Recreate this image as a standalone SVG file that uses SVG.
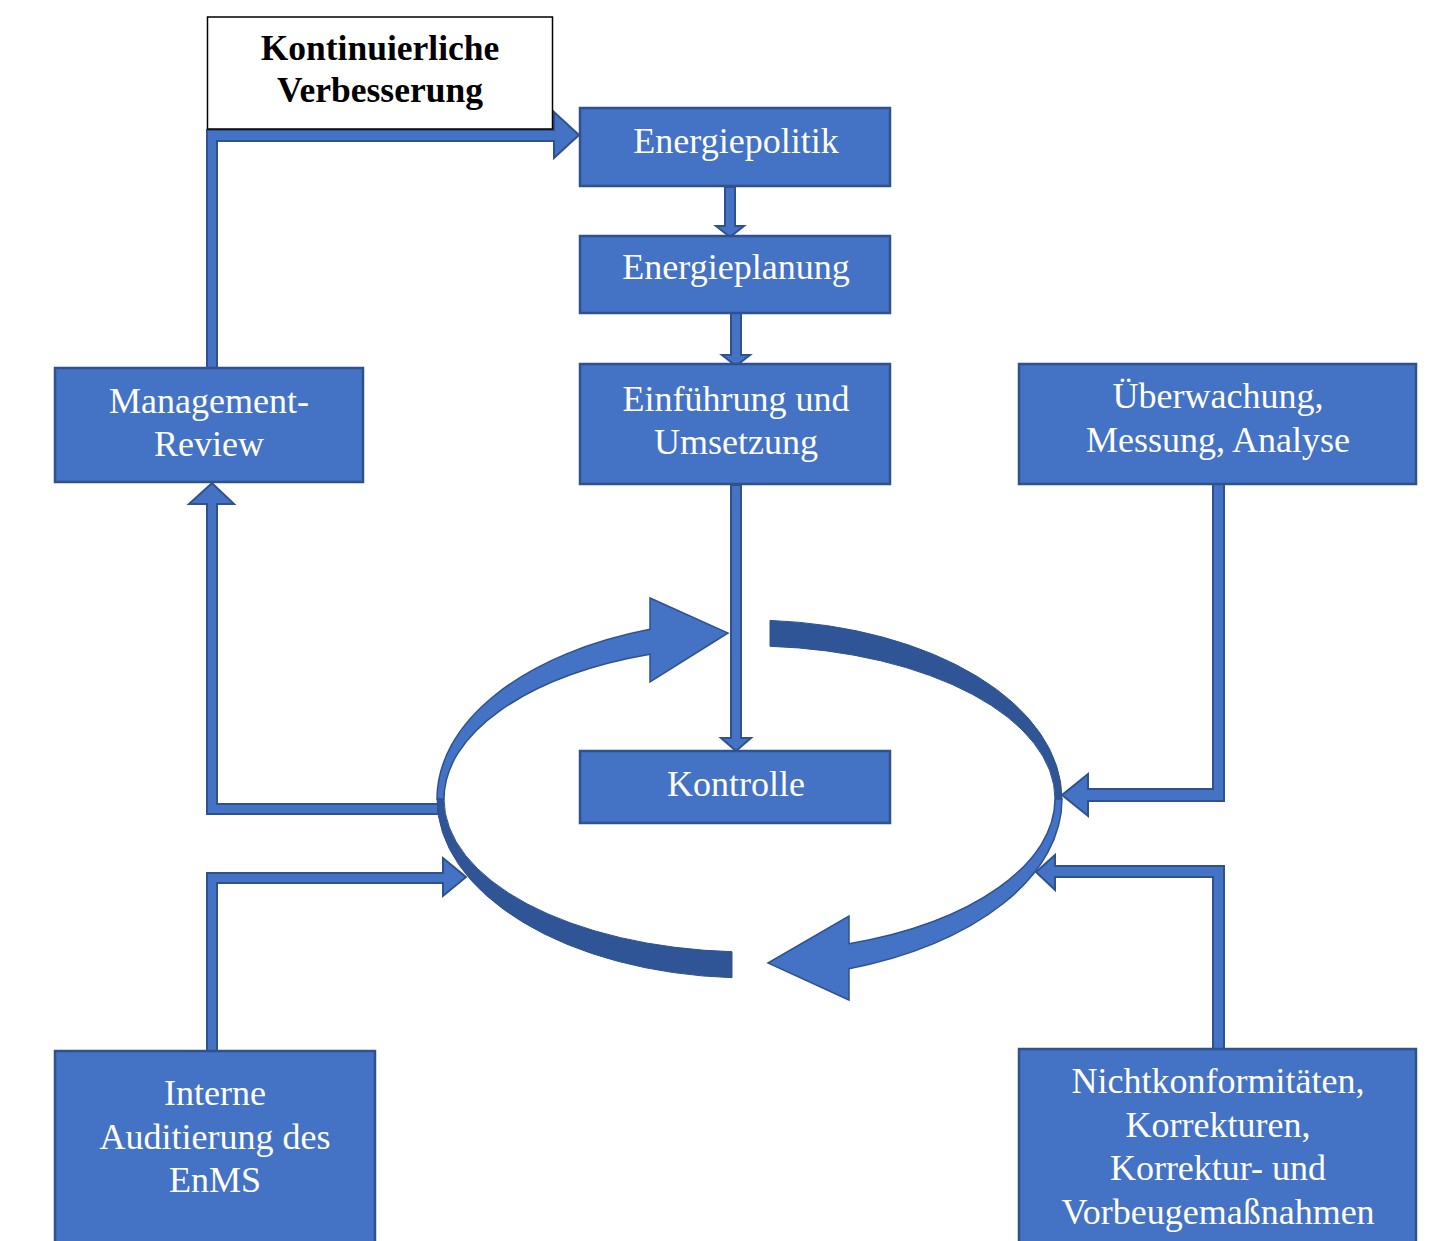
<svg xmlns="http://www.w3.org/2000/svg" width="1436" height="1241" viewBox="0 0 1436 1241">
<style>
.box{fill:#4472C4;stroke:#2F528F;stroke-width:2.5}
.wt{fill:#FFFFFF;font-family:"Liberation Serif","Times New Roman",serif;font-size:36px;text-anchor:middle}
.bt{fill:#000000;font-family:"Liberation Serif","Times New Roman",serif;font-size:35.5px;font-weight:bold;text-anchor:middle}
.con{fill:#4472C4;stroke:#2F528F;stroke-width:2;stroke-linejoin:miter}
.ringL{fill:#4472C4;stroke:#2F528F;stroke-width:1.5}
.ringD{fill:#2F5597;stroke:#2F528F;stroke-width:1}
</style>
<rect width="1436" height="1241" fill="#FFFFFF"/>

<g id="cycle">
  <path class="ringD" d="M 770 620.4 A 312.5 179 0 0 1 1062 799 L 1055 799 A 305.5 153 0 0 0 770 646.3 Z"/>
  <path class="ringD" d="M 732 977.7 A 312.5 179 0 0 1 437 799 L 444 799 A 305.5 153 0 0 0 732 951.7 Z"/>
  <path class="ringL" d="M 437 799 A 312.5 179 0 0 1 650 629.3 L 650 598 L 728 633 L 650 682 L 650 654.3 A 305.5 153 0 0 0 444 799 Z"/>
  <path class="ringL" d="M 1062 799 A 312.5 179 0 0 1 849 968.7 L 849 1000 L 768 963 L 849 916 L 849 943.7 A 305.5 153 0 0 0 1055 799 Z"/>
</g>

<g id="connectors">
  <path class="con" d="M 207 368 L 207 130 L 554 130 L 554 112 L 579 135 L 554 158 L 554 141 L 217 141 L 217 368 Z"/>
  <path class="con" d="M 725 187 L 725 226 L 716 226 L 730 237 L 744 226 L 735 226 L 735 187 Z"/>
  <path class="con" d="M 731 313 L 731 355 L 722 355 L 736 366 L 750 355 L 741 355 L 741 313 Z"/>
  <path class="con" d="M 731 485 L 731 738 L 721 738 L 736 751 L 751 738 L 741 738 L 741 485 Z"/>
  <path class="con" d="M 1213 484 L 1224 484 L 1224 801 L 1088 801 L 1088 816 L 1062 795 L 1088 774 L 1088 789 L 1213 789 Z"/>
  <path class="con" d="M 438 804 L 217 804 L 217 504 L 234 504 L 212 483 L 189 504 L 207 504 L 207 814 L 438 814 Z"/>
  <path class="con" d="M 207 1051 L 207 873 L 443 873 L 443 858 L 466 877 L 443 896 L 443 883 L 217 883 L 217 1051 Z"/>
  <path class="con" d="M 1213 1049 L 1213 877 L 1055 877 L 1055 890 L 1036 872 L 1055 855 L 1055 866 L 1224 866 L 1224 1049 Z"/>
</g>

<g id="node-verbesserung">
  <rect x="207.5" y="17" width="345" height="112" fill="#FFFFFF" stroke="#000000" stroke-width="1.5"/>
  <text class="bt" x="380" y="60">Kontinuierliche</text>
  <text class="bt" x="380" y="102">Verbesserung</text>
</g>
<g id="node-energiepolitik">
  <rect class="box" x="580" y="108" width="310" height="78"/>
  <text class="wt" x="736" y="153">Energiepolitik</text>
</g>
<g id="node-energieplanung">
  <rect class="box" x="580" y="236" width="310" height="77"/>
  <text class="wt" x="736" y="279">Energieplanung</text>
</g>
<g id="node-einfuehrung">
  <rect class="box" x="580" y="364" width="310" height="120"/>
  <text class="wt" x="736" y="411">Einführung und</text>
  <text class="wt" x="736" y="454">Umsetzung</text>
</g>
<g id="node-ueberwachung">
  <rect class="box" x="1019" y="364" width="397" height="120"/>
  <text class="wt" x="1218" y="408">Überwachung,</text>
  <text class="wt" x="1218" y="452">Messung, Analyse</text>
</g>
<g id="node-management-review">
  <rect class="box" x="55" y="368" width="308" height="114"/>
  <text class="wt" x="209" y="413">Management-</text>
  <text class="wt" x="209" y="456">Review</text>
</g>
<g id="node-kontrolle">
  <rect class="box" x="580" y="751" width="310" height="72"/>
  <text class="wt" x="736" y="796">Kontrolle</text>
</g>
<g id="node-interne-auditierung">
  <rect class="box" x="55" y="1051" width="320" height="210"/>
  <text class="wt" x="215" y="1105">Interne</text>
  <text class="wt" x="215" y="1149">Auditierung des</text>
  <text class="wt" x="215" y="1192">EnMS</text>
</g>
<g id="node-nichtkonformitaeten">
  <rect class="box" x="1019" y="1049" width="397" height="212"/>
  <text class="wt" x="1218" y="1093">Nichtkonformitäten,</text>
  <text class="wt" x="1218" y="1137">Korrekturen,</text>
  <text class="wt" x="1218" y="1180">Korrektur- und</text>
  <text class="wt" x="1218" y="1224">Vorbeugemaßnahmen</text>
</g>
</svg>
